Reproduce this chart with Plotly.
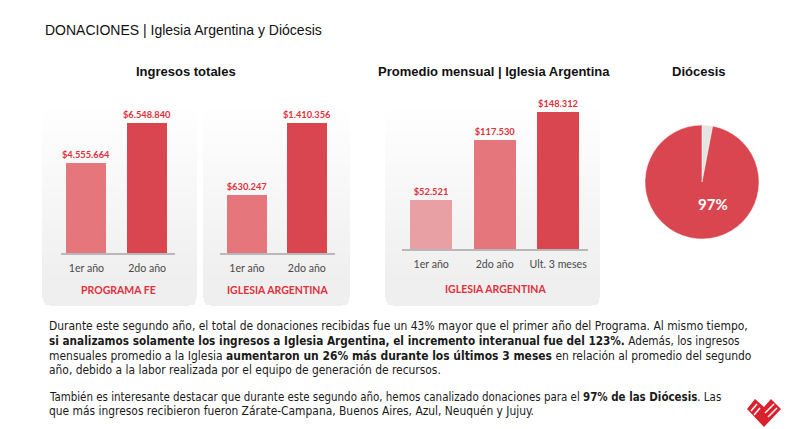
import plotly.graph_objects as go

# ---------------- data ----------------
p1_categories = ["1er año", "2do año"]
p1_values = [4555664, 6548840]
p2_categories = ["1er año", "2do año"]
p2_values = [630247, 1410356]
p3_categories = ["1er año", "2do año", "Ult. 3 meses"]
p3_values = [52521, 117530, 148312]
pie_labels = ["Sin donaciones", "Con donaciones"]
pie_values = [3, 97]

W, H = 790, 429
def X(px): return px / W
def Y(py): return 1 - py / H

def money(v):
    return "$" + f"{v:,}".replace(",", ".")

RED = "#e0303c"
C_LIGHT = "#e9a0a5"
C_MID = "#e5767c"
C_DARK = "#d9464f"

fig = go.Figure()

panels = [
    (p1_categories, p1_values, [C_MID, C_DARK], (61, 175), 253, 123, 0.66, "PROGRAMA FE", (-0.42, 1.46), 290),
    (p2_categories, p2_values, [C_MID, C_DARK], (220, 335), 253, 123, 0.66, "IGLESIA ARGENTINA", (-0.45, 1.47), 290),
    (p3_categories, p3_values, [C_LIGHT, C_MID, C_DARK], (402, 588), 249, 112, 0.66, "IGLESIA ARGENTINA", (-0.46, 2.47), 289),
]

TOP = 92
annotations = []
for i, (cats, vals, cols, (dx0, dx1), base, maxtop, bw, lab, xr, laby) in enumerate(panels):
    n = i + 1
    xa = "x" if n == 1 else f"x{n}"
    ya = "y" if n == 1 else f"y{n}"
    fig.add_trace(go.Bar(
        x=cats, y=vals, marker=dict(color=cols, line=dict(width=0)),
        width=bw, text=[money(v) for v in vals], textposition="outside",
        constraintext="none",
        textfont=dict(family="Lato", size=9.3, color=RED, weight="bold"),
        cliponaxis=False, xaxis=xa, yaxis=ya, hoverinfo="skip",
    ))
    vmax = max(vals)
    key = "" if n == 1 else str(n)
    fig.update_layout(**{
        f"xaxis{key}": dict(domain=[X(dx0), X(dx1)], anchor=ya, range=list(xr),
                            showline=True, linecolor="#b8b8b8", linewidth=1.5,
                            showgrid=False, zeroline=False, ticks="",
                            tickfont=dict(family="Lato", size=10.6, color="#4a4a4a"),
                            ticklabelstandoff=5, fixedrange=True),
        f"yaxis{key}": dict(domain=[Y(base), Y(TOP)], anchor=xa,
                            range=[0, vmax * (base - TOP) / (base - maxtop)],
                            visible=False, showgrid=False, zeroline=False, fixedrange=True),
    })
    annotations.append(dict(text=f"<b>{lab}</b>", x=X((dx0 + dx1) / 2), y=Y(laby),
                            font=dict(family="Lato", size=10.5, color=RED)))

# pie
fig.add_trace(go.Pie(
    labels=pie_labels, values=pie_values, sort=False, direction="counterclockwise", rotation=0,
    marker=dict(colors=["#e4e4e4", C_DARK], line=dict(color="white", width=0.5)),
    textinfo="none",
    domain=dict(x=[X(645), X(759)], y=[Y(239), Y(125)]), showlegend=False, hoverinfo="skip",
))
annotations.append(dict(text=f"<b>{pie_values[1]}%</b>", x=X(713), y=Y(204),
                        font=dict(family="Lato", size=15, color="white")))

# headings
annotations += [
    dict(text="DONACIONES | Iglesia Argentina y Diócesis", x=X(43), y=Y(30), xanchor="left",
         font=dict(family="Liberation Sans", size=14, color="#111111")),
    dict(text="<b>Ingresos totales</b>", x=X(186), y=Y(72),
         font=dict(family="Liberation Sans", size=13, color="#111111")),
    dict(text="<b>Promedio mensual | Iglesia Argentina</b>", x=X(494), y=Y(72),
         font=dict(family="Liberation Sans", size=13, color="#111111")),
    dict(text="<b>Diócesis</b>", x=X(698), y=Y(72),
         font=dict(family="Liberation Sans", size=13, color="#111111")),
]

para_lines = [
    ("Durante este segundo año, el total de donaciones recibidas fue un 43% mayor que el primer año del Programa. Al mismo tiempo,", 326, 11.95),
    ("<b>si analizamos solamente los ingresos a Iglesia Argentina, el incremento interanual fue del 123%.</b> Además, los ingresos", 341, 11.7),
    ("mensuales promedio a la Iglesia <b>aumentaron un 26% más durante los últimos 3 meses</b> en relación al promedio del segundo", 356, 11.95),
    ("año, debido a la labor realizada por el equipo de generación de recursos.", 370, 11.9),
    ("También es interesante destacar que durante este segundo año, hemos canalizado donaciones para el <b>97% de las Diócesis</b>. Las", 397, 11.45),
    ("que más ingresos recibieron fueron Zárate-Campana, Buenos Aires, Azul, Neuquén y Jujuy.", 411, 11.9),
]
for t, py, fs in para_lines:
    annotations.append(dict(text=t, x=X(47), y=Y(py), xanchor="left",
                            font=dict(family="Liberation Sans Narrow, DejaVu Sans Condensed, Arial Narrow",
                                      size=fs, color="#1a1a1a")))

for a in annotations:
    a.setdefault("xref", "paper")
    a.setdefault("yref", "paper")
    a.setdefault("showarrow", False)
    a.setdefault("xanchor", "center")
    a.setdefault("yanchor", "middle")

# panel backgrounds (gradient by stacked translucent rounded shapes)
shapes = []
boxes = [(42, 197), (203, 350), (385, 600)]
bottom = 306
r = 10
N = 16
for bx0, bx1 in boxes:
    for k in range(N):
        ty = 110 + k * (285 - 110) / N
        path = (f"M {X(bx0)} {Y(ty)} L {X(bx1)} {Y(ty)} L {X(bx1)} {Y(bottom - r)} "
                f"Q {X(bx1)} {Y(bottom)} {X(bx1 - r)} {Y(bottom)} L {X(bx0 + r)} {Y(bottom)} "
                f"Q {X(bx0)} {Y(bottom)} {X(bx0)} {Y(bottom - r)} Z")
        shapes.append(dict(type="path", path=path, xref="paper", yref="paper",
                           fillcolor="rgba(228,228,228,0.045)", line=dict(width=0), layer="below"))

# logo (decorative)
def P(pts):
    return "M " + " L ".join(f"{X(a)} {Y(b)}" for a, b in pts) + " Z"
shapes.append(dict(type="path", xref="paper", yref="paper", layer="above",
                   path=P([(747, 409), (755, 399), (764, 407), (771, 399), (781, 409), (764, 427)]),
                   fillcolor="#d8232f", line=dict(width=0)))
for (a, b), (c, d) in [((751, 411), (757, 404)), ((754, 415), (760, 408)),
                       ((765, 413), (774, 404)), ((768, 417), (777, 408))]:
    shapes.append(dict(type="line", xref="paper", yref="paper", layer="above",
                       x0=X(a), y0=Y(b), x1=X(c), y1=Y(d), line=dict(color="white", width=1.5)))

fig.update_layout(
    width=W, height=H, margin=dict(l=0, r=0, t=0, b=0),
    paper_bgcolor="white", plot_bgcolor="rgba(0,0,0,0)",
    showlegend=False, bargap=0, annotations=annotations, shapes=shapes,
)

fig.write_html("out.html", config={"displayModeBar": False})
